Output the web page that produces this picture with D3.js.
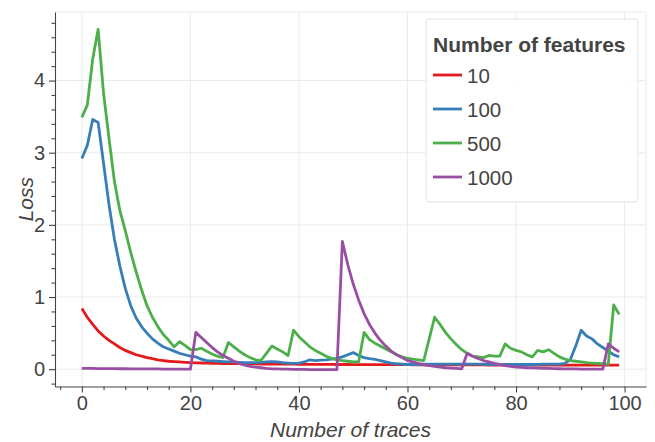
<!DOCTYPE html>
<html>
<head>
<meta charset="utf-8">
<script src="https://cdn.jsdelivr.net/npm/d3@7"></script>
<style>
  body { margin: 0; background: #fff; }
  svg text { font-family: "Liberation Sans", Arial, Helvetica, sans-serif; fill: #444; }
</style>
</head>
<body>
<svg id="chart" width="655" height="442"></svg>
<script>
// number of features shown in the legend
var featureLabels = ["10", "100", "500", "1000"];
var colors = ["#e41a1c", "#377eb8", "#4daf4a", "#984ea3"];

// loss per trace (x = 0..99)
var loss10 = [0.84,0.72,0.62,0.53,0.46,0.40,0.35,0.30,0.26,0.23,
  0.20,0.18,0.16,0.145,0.13,0.12,0.11,0.105,0.10,0.095,
  0.09,0.088,0.086,0.084,0.082,0.08,0.079,0.078,0.077,0.076,
  0.075,0.074,0.073,0.072,0.072,0.071,0.07,0.07,0.069,0.069,
  0.068,0.068,0.067,0.067,0.066,0.066,0.066,0.065,0.065,0.065,
  0.064,0.064,0.064,0.063,0.063,0.063,0.063,0.062,0.062,0.062,
  0.062,0.061,0.061,0.061,0.061,0.06,0.06,0.06,0.06,0.06,
  0.059,0.059,0.059,0.059,0.059,0.058,0.058,0.058,0.058,0.058,
  0.058,0.057,0.057,0.057,0.057,0.057,0.057,0.057,0.057,0.057,
  0.057,0.056,0.056,0.056,0.056,0.056,0.056,0.056,0.056,0.056];

var loss100 = [2.92,3.10,3.46,3.42,2.85,2.28,1.80,1.43,1.12,0.88,
  0.71,0.59,0.50,0.42,0.36,0.31,0.28,0.25,0.22,0.20,
  0.18,0.17,0.14,0.12,0.115,0.11,0.105,0.10,0.10,0.095,
  0.09,0.09,0.09,0.095,0.10,0.105,0.10,0.09,0.085,0.08,
  0.085,0.10,0.13,0.12,0.125,0.13,0.14,0.15,0.17,0.20,
  0.23,0.19,0.16,0.145,0.135,0.12,0.10,0.085,0.075,0.07,
  0.065,0.065,0.065,0.07,0.07,0.07,0.07,0.07,0.07,0.07,
  0.07,0.07,0.07,0.07,0.07,0.065,0.065,0.065,0.065,0.065,
  0.065,0.065,0.065,0.065,0.065,0.07,0.07,0.07,0.07,0.08,
  0.13,0.32,0.54,0.46,0.42,0.35,0.30,0.25,0.20,0.17];

var loss500 = [3.49,3.66,4.30,4.71,3.82,3.20,2.60,2.20,1.92,1.62,
  1.35,1.10,0.88,0.72,0.59,0.48,0.40,0.31,0.38,0.33,
  0.27,0.27,0.29,0.25,0.21,0.18,0.16,0.37,0.31,0.25,
  0.20,0.16,0.13,0.12,0.22,0.32,0.28,0.24,0.19,0.54,
  0.45,0.38,0.31,0.26,0.22,0.18,0.15,0.13,0.12,0.11,
  0.10,0.10,0.51,0.41,0.36,0.32,0.28,0.24,0.20,0.17,
  0.15,0.14,0.13,0.12,0.42,0.72,0.62,0.51,0.42,0.34,
  0.27,0.22,0.18,0.17,0.16,0.19,0.18,0.18,0.35,0.29,
  0.26,0.24,0.20,0.17,0.26,0.24,0.27,0.22,0.17,0.14,
  0.12,0.11,0.10,0.09,0.085,0.08,0.075,0.07,0.89,0.76];

var loss1000 = [0.01,0.01,0.01,0.009,0.008,0.008,0.007,0.006,0.006,0.005,
  0.005,0.004,0.004,0.003,0.003,0.002,0.002,0.001,0.001,0.0,
  0.0,0.51,0.44,0.37,0.30,0.24,0.19,0.15,0.11,0.08,
  0.055,0.04,0.03,0.02,0.01,0.005,0.003,0.001,0.0,-0.002,
  -0.003,-0.004,-0.005,-0.005,-0.005,-0.005,-0.005,-0.005,1.77,1.45,
  1.18,0.96,0.77,0.62,0.50,0.40,0.32,0.25,0.20,0.16,
  0.12,0.10,0.08,0.06,0.05,0.04,0.03,0.02,0.015,0.01,
  0.005,0.22,0.18,0.15,0.12,0.10,0.08,0.065,0.05,0.04,
  0.03,0.025,0.02,0.017,0.015,0.012,0.01,0.008,0.006,0.005,
  0.004,0.003,0.002,0.002,0.001,0.001,0.0,0.35,0.29,0.24];

var xTicks = [0, 20, 40, 60, 80, 100];
var yTicks = [0, 1, 2, 3, 4];

var series = [loss10, loss100, loss500, loss1000];

var plotLeft = 55, plotRight = 646, plotTop = 12, plotBottom = 386.5;

var svg = d3.select("#chart");

var x = d3.scaleLinear().domain([-4.95, 103.95]).range([plotLeft, plotRight]);
var y = d3.scaleLinear().domain([-0.24, 4.95]).range([plotBottom, plotTop]);

// grid
var grid = svg.append("g").attr("stroke", "#ebebeb").attr("stroke-width", 1);
grid.selectAll(".vg").data(xTicks).enter().append("line")
  .attr("x1", function(d) { return x(d); })
  .attr("x2", function(d) { return x(d); })
  .attr("y1", plotTop).attr("y2", plotBottom);
grid.selectAll(".hg").data(yTicks).enter().append("line")
  .attr("y1", function(d) { return y(d); })
  .attr("y2", function(d) { return y(d); })
  .attr("x1", plotLeft).attr("x2", plotRight);
grid.append("line").attr("x1", plotLeft).attr("x2", plotRight).attr("y1", plotTop).attr("y2", plotTop);
grid.append("line").attr("x1", plotRight).attr("x2", plotRight).attr("y1", plotTop).attr("y2", plotBottom);

// lines
var line = d3.line()
  .x(function(d, i) { return x(i); })
  .y(function(d) { return y(d); });

svg.append("g").selectAll("path")
  .data(series)
  .enter()
  .append("path")
  .attr("d", line)
  .attr("fill", "none")
  .attr("stroke", function(d, i) { return colors[i]; })
  .attr("stroke-width", 2.8)
  .attr("stroke-linejoin", "round");

// axes
var xAxis = svg.append("g")
  .attr("transform", "translate(0," + plotBottom + ")")
  .call(d3.axisBottom(x).tickValues(xTicks).tickSize(6).tickSizeOuter(0).tickPadding(3));
svg.append("g")
  .attr("transform", "translate(0," + plotBottom + ")")
  .call(d3.axisBottom(x).tickValues(d3.range(-4, 104, 4).filter(function(v) { return v % 20 !== 0; }))
    .tickSize(3.5).tickSizeOuter(0).tickFormat(""))
  .select(".domain").remove();

var yAxis = svg.append("g")
  .attr("transform", "translate(" + plotLeft + ",0)")
  .call(d3.axisLeft(y).tickValues(yTicks).tickFormat(d3.format("d"))
    .tickSize(6).tickSizeOuter(0).tickPadding(4));
var yMinor = d3.range(-1, 25).filter(function(v) { return v % 5 !== 0; })
  .map(function(v) { return v * 0.2; });
svg.append("g")
  .attr("transform", "translate(" + plotLeft + ",0)")
  .call(d3.axisLeft(y).tickValues(yMinor).tickSize(3.5).tickSizeOuter(0).tickFormat(""))
  .select(".domain").remove();

svg.selectAll(".tick line, .domain").attr("stroke", "#444").attr("stroke-width", 1.1);
xAxis.selectAll("text").style("font-size", "20px").attr("fill", "#444");
yAxis.selectAll("text").style("font-size", "20px").attr("fill", "#444");

// axis titles
svg.append("text")
  .attr("x", (plotLeft + plotRight) / 2)
  .attr("y", 437)
  .attr("text-anchor", "middle")
  .style("font-size", "21px")
  .style("font-style", "italic")
  .text("Number of traces");

svg.append("text")
  .attr("transform", "translate(33," + (plotTop + plotBottom) / 2 + ") rotate(-90)")
  .attr("text-anchor", "middle")
  .style("font-size", "21px")
  .style("font-style", "italic")
  .text("Loss");

// legend
var legend = svg.append("g").attr("transform", "translate(426,19)");
legend.append("rect")
  .attr("width", 212).attr("height", 183)
  .attr("rx", 3)
  .attr("fill", "#fff").attr("fill-opacity", 0.9)
  .attr("stroke", "#e3e3e3");
legend.append("text")
  .attr("x", 7).attr("y", 33)
  .style("font-size", "21px")
  .style("font-weight", "bold")
  .text("Number of features");

var items = legend.selectAll(".item")
  .data(featureLabels)
  .enter()
  .append("g")
  .attr("transform", function(d, i) { return "translate(7," + (56 + i * 34) + ")"; });
items.append("line")
  .attr("x1", 0).attr("x2", 29)
  .attr("stroke", function(d, i) { return colors[i]; })
  .attr("stroke-width", 2.8);
items.append("text")
  .attr("x", 34).attr("y", 8)
  .style("font-size", "20.5px")
  .text(function(d) { return d; });
</script>
</body>
</html>
